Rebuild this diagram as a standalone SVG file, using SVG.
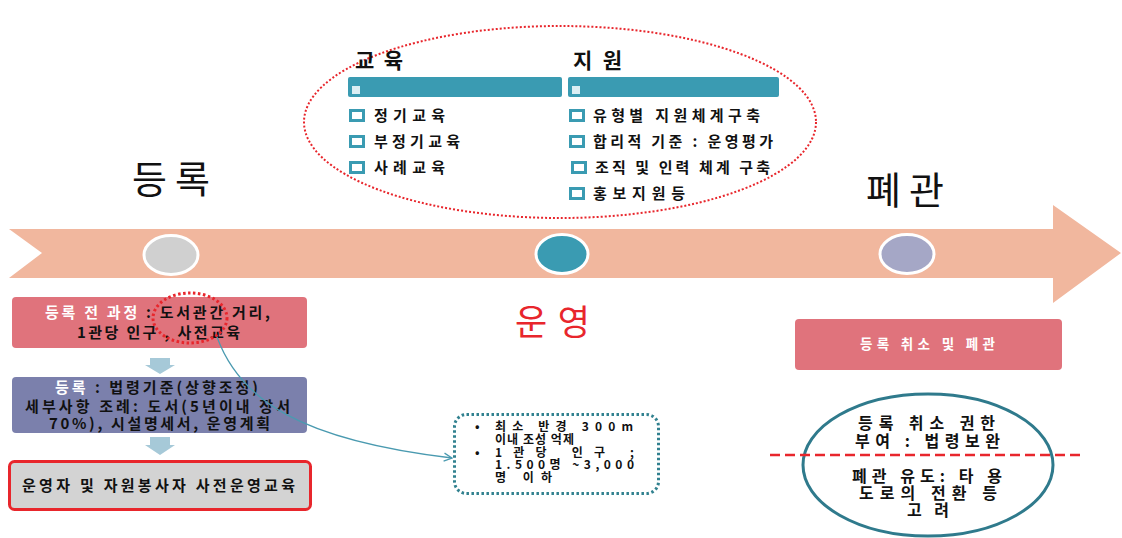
<svg xmlns="http://www.w3.org/2000/svg" width="1122" height="538" viewBox="0 0 1122 538">
<defs>
<style>
text{font-family:"Noto Sans CJK KR","Noto Sans",sans-serif;fill:#111}
.b{font-weight:bold}
.t14{font-size:15px;font-weight:bold}
.n{font-size:12px;font-weight:bold}
.c{font-size:16px;font-weight:bold}
.chk{fill:#fff;stroke:#3a9bb2;stroke-width:3}
</style>
<marker id="ah" markerWidth="10" markerHeight="10" refX="9" refY="5" orient="auto" markerUnits="userSpaceOnUse">
<path d="M1,1 L9,5 L1,9" fill="none" stroke="#4a9ab0" stroke-width="1.3"/>
</marker>
</defs>
<rect width="1122" height="538" fill="#fff"/>

<g id="timeline">
<path d="M9,229 L1053,229 L1053,205 L1121,253 L1053,303 L1053,278 L9,278 L42,253 Z" fill="#f1b79e"/>
<ellipse cx="171" cy="255" rx="27" ry="19.5" fill="#d0d0d0" stroke="#fff" stroke-width="3"/>
<ellipse cx="562" cy="254" rx="26" ry="19.5" fill="#3a9bb2" stroke="#fff" stroke-width="3"/>
<ellipse cx="907" cy="254" rx="27" ry="19.5" fill="#a5a7c6" stroke="#fff" stroke-width="3"/>
</g>

<g id="titles">
<text x="132" y="193" font-size="38" textLength="78" lengthAdjust="spacing">등록</text>
<text x="866" y="204" font-size="38" textLength="78" lengthAdjust="spacing">폐관</text>
<text x="515" y="335" font-size="35" style="fill:#e8262c" textLength="75" lengthAdjust="spacing">운영</text>
</g>

<g id="operation-ellipse">
<ellipse cx="560" cy="122" rx="256" ry="96" fill="none" stroke="#e8262c" stroke-width="2" stroke-dasharray="2,2"/>
<text x="355" y="68" font-size="21" class="b" textLength="48" lengthAdjust="spacing">교육</text>
<text x="573" y="68" font-size="21" class="b" textLength="49" lengthAdjust="spacing">지원</text>
<rect x="348" y="77" width="214" height="20" rx="2" fill="#3a9bb2"/>
<rect x="352" y="86" width="8" height="8" fill="#dbeef3"/>
<rect x="568" y="77" width="211" height="20" rx="2" fill="#3a9bb2"/>
<rect x="572" y="86" width="8" height="8" fill="#dbeef3"/>
<rect class="chk" x="350.5" y="110.5" width="13" height="10"/>
<text x="374" y="121" class="t14" textLength="71" lengthAdjust="spacing">정기교육</text>
<rect class="chk" x="350.5" y="136.5" width="13" height="10"/>
<text x="374" y="147" class="t14" textLength="86" lengthAdjust="spacing">부정기교육</text>
<rect class="chk" x="350.5" y="162.5" width="13" height="10"/>
<text x="374" y="173" class="t14" textLength="71" lengthAdjust="spacing">사례교육</text>
<rect class="chk" x="570.5" y="110.5" width="13" height="10"/>
<text x="593" y="121" class="t14" textLength="167" lengthAdjust="spacing">유형별 지원체계구축</text>
<rect class="chk" x="570.5" y="136.5" width="13" height="10"/>
<text x="593" y="147" class="t14" textLength="180" lengthAdjust="spacing">합리적 기준 : 운영평가</text>
<rect class="chk" x="572.5" y="162.5" width="13" height="10"/>
<text x="595" y="173" class="t14" textLength="175" lengthAdjust="spacing">조직 및 인력 체계 구축</text>
<rect class="chk" x="570.5" y="188.5" width="13" height="10"/>
<text x="593" y="199" class="t14" textLength="92" lengthAdjust="spacing">홍보지원등</text>
</g>

<g id="pre-registration">
<rect x="12" y="297" width="295" height="51" rx="4" fill="#e0737c"/>
<text x="45" y="318" class="t14" textLength="225" lengthAdjust="spacing"><tspan style="fill:#fff">등록 전 과정</tspan> : 도서관간 거리,</text>
<text x="77" y="338" class="t14" textLength="163" lengthAdjust="spacing">1관당 인구 , 사전교육</text>
<ellipse cx="190" cy="318" rx="37" ry="25" fill="none" stroke="#e8262c" stroke-width="3" stroke-dasharray="2.5,2.5"/>
</g>

<g id="down-arrow-1">
<path d="M150,358 L170,358 L170,365 L175,365 L160,374 L145,365 L150,365 Z" fill="#a6c9d8"/>
</g>

<g id="registration">
<rect x="12" y="377" width="295" height="56" rx="4" fill="#7b80ac"/>
<text x="55" y="393" class="t14" textLength="203" lengthAdjust="spacing"><tspan style="fill:#fff">등록</tspan> : 법령기준(상향조정)</text>
<text x="25" y="412" class="t14" textLength="265" lengthAdjust="spacing">세부사항 조례: 도서(5년이내 장서</text>
<text x="49" y="429" class="t14" textLength="221" lengthAdjust="spacing">70%), 시설명세서, 운영계획</text>
</g>

<g id="down-arrow-2">
<path d="M150,437 L170,437 L170,445 L175,445 L160,455 L145,445 L150,445 Z" fill="#a6c9d8"/>
</g>

<g id="pre-education">
<rect x="9.5" y="461.5" width="301" height="48" rx="5" fill="#d3d3d3" stroke="#e8262c" stroke-width="3"/>
<text x="22" y="491" class="t14" textLength="273" lengthAdjust="spacing">운영자 및 자원봉사자 사전운영교육</text>
</g>

<g id="criteria-note">
<rect x="454.5" y="414.5" width="204" height="79" rx="12" fill="#fff" stroke="#31818f" stroke-width="3" stroke-dasharray="2.5,2.5"/>
<text x="475" y="431" font-size="12" class="b">•</text>
<text x="495" y="431" class="n" textLength="138" lengthAdjust="spacing">최소 반경 300m</text>
<text x="495" y="444" class="n" textLength="79" lengthAdjust="spacing">이내 조성 억제</text>
<text x="475" y="457" font-size="12" class="b">•</text>
<text x="495" y="457" class="n" textLength="139" lengthAdjust="spacing">1관당 인구 ;</text>
<text x="495" y="469" class="n" textLength="139" lengthAdjust="spacing">1.500명 ~3,000</text>
<text x="495" y="482" class="n" textLength="57" lengthAdjust="spacing">명 이하</text>
</g>

<g id="closure-box">
<rect x="795" y="319" width="267" height="51" rx="4" fill="#e0737c"/>
<text x="860" y="349" font-size="13.5" class="b" style="fill:#fff" textLength="135" lengthAdjust="spacing">등록 취소 및 폐관</text>
</g>

<g id="closure-circle">
<ellipse cx="928" cy="465" rx="125" ry="71" fill="none" stroke="#2f7a8c" stroke-width="3"/>
<text x="858" y="429" class="c" textLength="137" lengthAdjust="spacing">등록 취소 권한</text>
<text x="855" y="447" class="c" textLength="145" lengthAdjust="spacing">부여 : 법령보완</text>
<text x="852" y="482" class="c" textLength="150" lengthAdjust="spacing">폐관 유도: 타 용</text>
<text x="859" y="499" class="c" textLength="138" lengthAdjust="spacing">도로의 전환 등</text>
<text x="907" y="516" class="c" textLength="42" lengthAdjust="spacing">고려</text>
</g>

<g id="connectors">
<path d="M217,337 C240,400 300,440 452,458" fill="none" stroke="#4a9ab0" stroke-width="1.3" marker-end="url(#ah)"/>
<line x1="770" y1="455" x2="1084" y2="455" stroke="#e8262c" stroke-width="2.5" stroke-dasharray="10,5"/>
</g>
</svg>
